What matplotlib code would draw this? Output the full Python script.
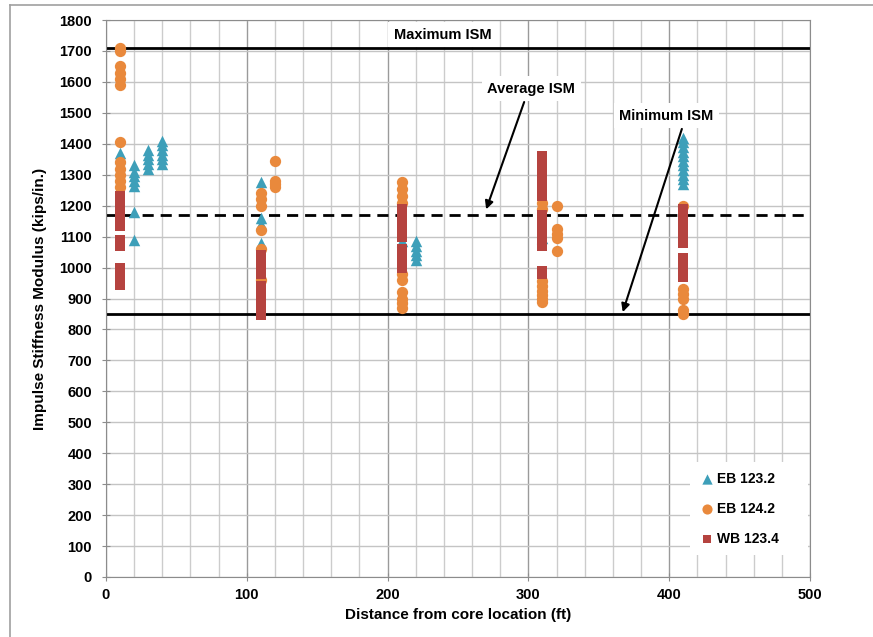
import matplotlib
matplotlib.use("Agg")
import matplotlib.pyplot as plt
from matplotlib.lines import Line2D
from matplotlib.patches import Rectangle
from matplotlib.ticker import MultipleLocator

plt.rcParams['font.family'] = ['Liberation Sans', 'DejaVu Sans']

# ---- data ----
eb1232_x = [10, 10,
            20, 20, 20, 20, 20, 20, 20,
            30, 30, 30, 30, 30,
            40, 40, 40, 40, 40, 40,
            110, 110, 110, 110,
            210,
            220, 220, 220, 220, 220,
            310,
            410, 410, 410, 410, 410, 410, 410, 410, 410, 410, 410]
eb1232_y = [1370, 1355,
            1330, 1310, 1295, 1280, 1265, 1180, 1090,
            1380, 1365, 1350, 1335, 1320,
            1410, 1395, 1380, 1365, 1350, 1335,
            1275, 1160, 1140, 1080,
            1085,
            1085, 1070, 1055, 1040, 1025,
            1095,
            1420, 1405, 1390, 1375, 1360, 1345, 1330, 1315, 1300, 1285, 1270]

eb1242_x = [10] * 12 + [110] * 6 + [120] * 4 + [210] * 10 + [310] * 8 + [320] * 5 + [410] * 6
eb1242_y = [1710, 1700, 1650, 1630, 1610, 1590, 1405, 1340, 1320, 1300, 1280, 1260,
            1240, 1220, 1200, 1120, 1060, 960,
            1345, 1280, 1270, 1260,
            1275, 1255, 1230, 1210, 980, 960, 920, 900, 885, 870,
            1210, 1190, 955, 940, 925, 910, 897, 888,
            1200, 1125, 1110, 1095, 1055,
            1200, 930, 915, 900, 862, 850]

wb1234_x = [10] * 12 + [110] * 10 + [210] * 10 + [310] * 16 + [410] * 11
wb1234_y = [1230, 1210, 1190, 1170, 1150, 1135, 1090, 1070, 1000, 985, 965, 945,
            1040, 1020, 1000, 980, 940, 920, 900, 880, 860, 848,
            1190, 1170, 1150, 1130, 1110, 1100, 1060, 1040, 1020, 1000,
            1360, 1340, 1320, 1300, 1280, 1260, 1240, 1230, 1170, 1150, 1130, 1110,
            1090, 1070, 990, 980,
            1190, 1170, 1150, 1130, 1110, 1090, 1080, 1030, 1010, 990, 970]

series_names = ["EB 123.2", "EB 124.2", "WB 123.4"]
ism_max, ism_avg, ism_min = 1710, 1170, 850

W, H = 873, 637

# ---- figure ----
fig = plt.figure(figsize=(W / 100, H / 100), dpi=100)
ax = fig.add_axes([106 / W, 1 - 577 / H, (810 - 106) / W, (577 - 20) / H])

ax.set_xlim(0, 500)
ax.set_ylim(0, 1800)
ax.xaxis.set_major_locator(MultipleLocator(100))
ax.xaxis.set_minor_locator(MultipleLocator(20))
ax.yaxis.set_major_locator(MultipleLocator(100))
ax.grid(which='major', axis='x', color='#9a9a9a', lw=1.0, zorder=0)
ax.grid(which='minor', axis='x', color='#cccccc', lw=1.0, zorder=0)
ax.grid(which='major', axis='y', color='#c4c4c4', lw=1.0, zorder=0)
ax.set_axisbelow(True)
for s in ax.spines.values():
    s.set_color('#8c8c8c')
ax.tick_params(which='major', direction='inout', length=6, color='#8c8c8c',
               labelsize=10.5)
ax.tick_params(axis='y', pad=7)
ax.tick_params(axis='x', pad=5)
ax.tick_params(which='minor', length=0)
for lab in ax.get_xticklabels() + ax.get_yticklabels():
    lab.set_fontweight('bold')

c_teal, c_orange, c_red = '#3d9fb9', '#e9893c', '#b5433f'

ax.axhline(ism_max, color='black', lw=2, zorder=2)
ax.axhline(ism_avg, color='black', lw=2, ls=(0, (4, 2.5)), zorder=2)
ax.axhline(ism_min, color='black', lw=2, zorder=2)

ax.scatter(eb1232_x, eb1232_y, marker='^', s=68, color=c_teal, lw=0, zorder=3,
           label=series_names[0])
ax.scatter(eb1242_x, eb1242_y, marker='o', s=66, color=c_orange, lw=0, zorder=3,
           label=series_names[1])
ax.scatter(wb1234_x, wb1234_y, marker='s', s=50, color=c_red, lw=0, zorder=3,
           label=series_names[2])

tb = dict(facecolor='white', edgecolor='none', pad=4)
ax.text(239, 1752, "Maximum ISM", ha='center', va='center', fontsize=10.5,
        fontweight='bold', bbox=tb, zorder=4)
ax.text(302, 1578, "Average ISM", ha='center', va='center', fontsize=10.5,
        fontweight='bold', bbox=tb, zorder=4)
ax.text(398, 1490, "Minimum ISM", ha='center', va='center', fontsize=10.5,
        fontweight='bold', bbox=tb, zorder=4)
ap = dict(arrowstyle='-|>', color='black', lw=1.5, mutation_scale=12,
          shrinkA=0, shrinkB=0)
ax.annotate("", xy=(270, 1188), xytext=(297, 1535), arrowprops=ap, zorder=5)
ax.annotate("", xy=(367, 856), xytext=(409, 1448), arrowprops=ap, zorder=5)

ax.set_xlabel("Distance from core location (ft)", fontsize=11, fontweight='bold',
              labelpad=4)
ax.set_ylabel("Impulse Stiffness Modulus (kips/in.)", fontsize=11,
              fontweight='bold', labelpad=9)

# legend background box (white, no border)
ax.add_patch(Rectangle((690 / W, 1 - 555 / H), (808 - 690) / W, (555 - 462) / H,
                       transform=fig.transFigure, facecolor='white',
                       edgecolor='none', zorder=2.5))
leg = ax.legend(loc='upper left', bbox_to_anchor=(690 / W, 1 - 462 / H),
                bbox_transform=fig.transFigure, frameon=False,
                prop={'weight': 'bold', 'size': 10}, handletextpad=0.25,
                handlelength=1.0, labelspacing=1.15, borderpad=0.7,
                markerscale=0.9, borderaxespad=0)
leg.set_zorder(6)

# outer border
fig.add_artist(Line2D([10 / W, 10 / W], [0, 1 - 5 / H], color='#a0a0a0',
                      lw=1.2, transform=fig.transFigure))
fig.add_artist(Line2D([10 / W, 1], [1 - 5 / H, 1 - 5 / H], color='#a0a0a0',
                      lw=1.2, transform=fig.transFigure))

fig.savefig("out.png", dpi=100, facecolor='white')
